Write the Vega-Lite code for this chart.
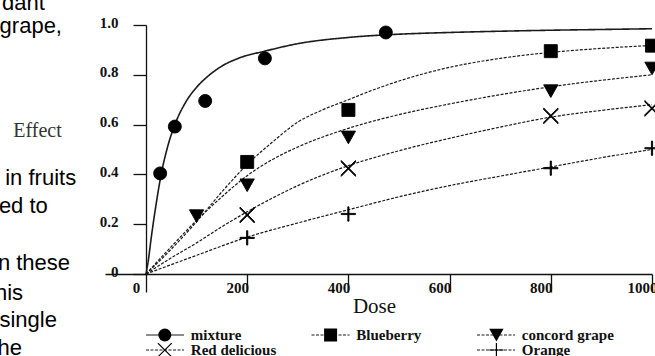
{
  "$schema": "https://vega.github.io/schema/vega-lite/v6.json",
  "width": 547,
  "height": 249,
  "autosize": {"type": "none"},
  "padding": {"left": 105, "top": 25, "right": 3, "bottom": 82},
  "config": {"view": {"stroke": null}, "font": "Liberation Serif"},
  "datasets": {
    "obs": [
      {"series": "mixture", "dose": 28, "effect": 0.404},
      {"series": "mixture", "dose": 57, "effect": 0.592},
      {"series": "mixture", "dose": 117, "effect": 0.695},
      {"series": "mixture", "dose": 235, "effect": 0.866},
      {"series": "mixture", "dose": 474, "effect": 0.97},
      {"series": "Blueberry", "dose": 200, "effect": 0.45},
      {"series": "Blueberry", "dose": 400, "effect": 0.659},
      {"series": "Blueberry", "dose": 800, "effect": 0.895},
      {"series": "Blueberry", "dose": 1000, "effect": 0.917},
      {"series": "concord grape", "dose": 100, "effect": 0.233},
      {"series": "concord grape", "dose": 200, "effect": 0.357},
      {"series": "concord grape", "dose": 400, "effect": 0.549},
      {"series": "concord grape", "dose": 800, "effect": 0.735},
      {"series": "concord grape", "dose": 1000, "effect": 0.826},
      {"series": "Red delicious", "dose": 200, "effect": 0.237},
      {"series": "Red delicious", "dose": 400, "effect": 0.424},
      {"series": "Red delicious", "dose": 800, "effect": 0.635},
      {"series": "Red delicious", "dose": 1000, "effect": 0.665},
      {"series": "Orange", "dose": 200, "effect": 0.145},
      {"series": "Orange", "dose": 400, "effect": 0.241},
      {"series": "Orange", "dose": 800, "effect": 0.425},
      {"series": "Orange", "dose": 1000, "effect": 0.505}
    ],
    "curves": [
      {"series": "mixture", "dose": 0, "effect": 0},
      {"series": "mixture", "dose": 5, "effect": 0.06},
      {"series": "mixture", "dose": 10, "effect": 0.14},
      {"series": "mixture", "dose": 20, "effect": 0.28},
      {"series": "mixture", "dose": 30, "effect": 0.4},
      {"series": "mixture", "dose": 40, "effect": 0.49},
      {"series": "mixture", "dose": 50, "effect": 0.56},
      {"series": "mixture", "dose": 60, "effect": 0.615},
      {"series": "mixture", "dose": 80, "effect": 0.695},
      {"series": "mixture", "dose": 100, "effect": 0.75},
      {"series": "mixture", "dose": 120, "effect": 0.79},
      {"series": "mixture", "dose": 150, "effect": 0.835},
      {"series": "mixture", "dose": 185, "effect": 0.868},
      {"series": "mixture", "dose": 235, "effect": 0.895},
      {"series": "mixture", "dose": 300, "effect": 0.925},
      {"series": "mixture", "dose": 400, "effect": 0.95},
      {"series": "mixture", "dose": 500, "effect": 0.963},
      {"series": "mixture", "dose": 600, "effect": 0.97},
      {"series": "mixture", "dose": 700, "effect": 0.975},
      {"series": "mixture", "dose": 800, "effect": 0.979},
      {"series": "mixture", "dose": 900, "effect": 0.982},
      {"series": "mixture", "dose": 1000, "effect": 0.985},
      {"series": "Blueberry", "dose": 0, "effect": 0},
      {"series": "Blueberry", "dose": 50, "effect": 0.1},
      {"series": "Blueberry", "dose": 100, "effect": 0.21},
      {"series": "Blueberry", "dose": 150, "effect": 0.33},
      {"series": "Blueberry", "dose": 200, "effect": 0.44},
      {"series": "Blueberry", "dose": 250, "effect": 0.53},
      {"series": "Blueberry", "dose": 300, "effect": 0.61},
      {"series": "Blueberry", "dose": 350, "effect": 0.66},
      {"series": "Blueberry", "dose": 400, "effect": 0.7},
      {"series": "Blueberry", "dose": 450, "effect": 0.74},
      {"series": "Blueberry", "dose": 500, "effect": 0.775},
      {"series": "Blueberry", "dose": 600, "effect": 0.83},
      {"series": "Blueberry", "dose": 700, "effect": 0.866},
      {"series": "Blueberry", "dose": 800, "effect": 0.89},
      {"series": "Blueberry", "dose": 900, "effect": 0.906},
      {"series": "Blueberry", "dose": 1000, "effect": 0.918},
      {"series": "concord grape", "dose": 0, "effect": 0},
      {"series": "concord grape", "dose": 50, "effect": 0.11},
      {"series": "concord grape", "dose": 100, "effect": 0.215},
      {"series": "concord grape", "dose": 150, "effect": 0.31},
      {"series": "concord grape", "dose": 200, "effect": 0.395},
      {"series": "concord grape", "dose": 250, "effect": 0.46},
      {"series": "concord grape", "dose": 300, "effect": 0.51},
      {"series": "concord grape", "dose": 400, "effect": 0.585},
      {"series": "concord grape", "dose": 500, "effect": 0.64},
      {"series": "concord grape", "dose": 600, "effect": 0.683},
      {"series": "concord grape", "dose": 700, "effect": 0.72},
      {"series": "concord grape", "dose": 800, "effect": 0.752},
      {"series": "concord grape", "dose": 900, "effect": 0.778},
      {"series": "concord grape", "dose": 1000, "effect": 0.8},
      {"series": "Red delicious", "dose": 0, "effect": 0},
      {"series": "Red delicious", "dose": 50, "effect": 0.065},
      {"series": "Red delicious", "dose": 100, "effect": 0.125},
      {"series": "Red delicious", "dose": 150, "effect": 0.19},
      {"series": "Red delicious", "dose": 200, "effect": 0.25},
      {"series": "Red delicious", "dose": 250, "effect": 0.305},
      {"series": "Red delicious", "dose": 300, "effect": 0.355},
      {"series": "Red delicious", "dose": 400, "effect": 0.435},
      {"series": "Red delicious", "dose": 500, "effect": 0.495},
      {"series": "Red delicious", "dose": 600, "effect": 0.545},
      {"series": "Red delicious", "dose": 700, "effect": 0.59},
      {"series": "Red delicious", "dose": 800, "effect": 0.63},
      {"series": "Red delicious", "dose": 900, "effect": 0.657},
      {"series": "Red delicious", "dose": 1000, "effect": 0.68},
      {"series": "Orange", "dose": 0, "effect": 0},
      {"series": "Orange", "dose": 100, "effect": 0.075},
      {"series": "Orange", "dose": 200, "effect": 0.148},
      {"series": "Orange", "dose": 300, "effect": 0.205},
      {"series": "Orange", "dose": 400, "effect": 0.258},
      {"series": "Orange", "dose": 500, "effect": 0.31},
      {"series": "Orange", "dose": 600, "effect": 0.355},
      {"series": "Orange", "dose": 700, "effect": 0.393},
      {"series": "Orange", "dose": 800, "effect": 0.43},
      {"series": "Orange", "dose": 900, "effect": 0.467},
      {"series": "Orange", "dose": 1000, "effect": 0.5}
    ],
    "frag": [
      {"t": "dant", "dose": -200, "effect": 1.06},
      {"t": "grape,", "dose": -166, "effect": 0.968},
      {"t": "in fruits", "dose": -138, "effect": 0.357},
      {"t": "ed to", "dose": -194, "effect": 0.245},
      {"t": "n these", "dose": -150, "effect": 0.016},
      {"t": "his", "dose": -243, "effect": -0.104},
      {"t": "single", "dose": -176, "effect": -0.213},
      {"t": "he", "dose": -245, "effect": -0.325}
    ]
  },
  "encoding": {
    "x": {
      "field": "dose", "type": "quantitative",
      "scale": {"domain": [-81, 1000], "nice": false, "zero": false},
      "axis": {
        "values": [0, 200, 400, 600, 800, 1000], "format": "d", "title": "Dose", "grid": false,
        "domainColor": "#111", "domainWidth": 1.3, "tickColor": "#111", "tickWidth": 1.3, "tickSize": 18,
        "labelFont": "Liberation Serif", "labelFontSize": 15, "labelFontWeight": "bold", "labelColor": "#111",
        "labelBaseline": "alphabetic", "labelPadding": 0, "labelAlign": "center", "labelOffset": -10,
        "labelFlush": false, "labelOverlap": false,
        "titleFont": "Liberation Serif", "titleFontSize": 21, "titleFontWeight": "normal", "titleColor": "#111",
        "titleX": 269, "titleY": 32, "titleAlign": "center", "titleBaseline": "middle"
      }
    },
    "y": {
      "field": "effect", "type": "quantitative",
      "scale": {"domain": [0, 1], "nice": false},
      "axis": {
        "values": [0, 0.2, 0.4, 0.6, 0.8, 1], "offset": -41,
        "labelExpr": "datum.value === 0 ? '0' : format(datum.value, '.1f')",
        "title": "Effect", "grid": false,
        "domainColor": "#111", "domainWidth": 1.3, "tickColor": "#111", "tickWidth": 1.3, "tickSize": 13,
        "labelFont": "Liberation Serif", "labelFontSize": 15, "labelFontWeight": "bold", "labelColor": "#111",
        "labelPadding": 15, "labelBaseline": "alphabetic", "labelOffset": 2, "labelAlign": "right",
        "labelOverlap": false, "labelFlush": false,
        "titleAngle": 0, "titleX": -109, "titleY": 105, "titleAlign": "center", "titleBaseline": "middle",
        "titleFont": "Liberation Serif", "titleFontSize": 20, "titleFontWeight": "normal", "titleColor": "#333"
      }
    }
  },
  "layer": [
    {
      "data": {"name": "frag"},
      "mark": {"type": "text", "align": "right", "baseline": "alphabetic", "font": "Liberation Sans", "fontSize": 22, "color": "#000"},
      "encoding": {"text": {"field": "t", "type": "nominal"}}
    },
    {
      "data": {"name": "curves"},
      "mark": {"type": "line", "interpolate": "monotone", "color": "#1a1a1a"},
      "encoding": {
        "detail": {"field": "series", "type": "nominal"},
        "strokeDash": {
          "field": "series", "type": "nominal",
          "scale": {
            "domain": ["mixture", "Blueberry", "concord grape", "Red delicious", "  ", "Orange"],
            "range": [[1, 0], [3, 1.5], [3, 1.5], [3, 1.5], [0, 10], [3, 1.5]]
          },
          "legend": {
            "orient": "none", "legendX": 40, "legendY": 303, "direction": "horizontal", "columns": 3,
            "title": null, "padding": 0, "rowPadding": -2, "columnPadding": 27.5, "gridAlign": "all",
            "clipHeight": 14, "symbolType": "stroke", "symbolSize": 1444, "symbolStrokeWidth": 1.2, "labelOffset": 5.8,
            "labelFont": "Liberation Serif", "labelFontSize": 15, "labelFontWeight": "bold", "labelColor": "#111", "labelLimit": 200
          }
        },
        "strokeWidth": {"condition": {"test": "datum.series === 'mixture'", "value": 1.6}, "value": 1.2}
      }
    },
    {
      "data": {"name": "obs"},
      "mark": {"type": "point", "filled": true, "color": "black", "stroke": "black", "strokeWidth": 0.9, "size": 169, "opacity": 1},
      "encoding": {
        "shape": {
          "field": "series", "type": "nominal",
          "scale": {
            "domain": ["mixture", "Blueberry", "concord grape", "Red delicious", " ", "Orange"],
            "range": [
              "circle",
              "square",
              "M-1.1,-0.95L1.1,-0.95L0,1Z",
              "M-1.1,-1.22L1.1,0.98L1.1,1.22L-1.1,-0.98ZM-1.1,0.98L1.1,-1.22L1.1,-0.98L-1.1,1.22Z",
              "M0,0",
              "M-1.1,-0.09H1.1V0.09H-1.1ZM-0.09,-1.1H0.09V1.1H-0.09Z"
            ]
          },
          "legend": {
            "orient": "none", "legendX": 52.3, "legendY": 303, "direction": "horizontal", "columns": 3,
            "title": null, "padding": 0, "rowPadding": -2, "columnPadding": 39.8, "gridAlign": "all",
            "clipHeight": 14, "symbolSize": 169, "symbolStrokeWidth": 1.3, "symbolStrokeColor": "black", "symbolFillColor": "black",
            "labelOffset": 18.4, "labelOpacity": 0,
            "labelFont": "Liberation Serif", "labelFontSize": 15, "labelFontWeight": "bold", "labelColor": "#111", "labelLimit": 200
          }
        }
      }
    }
  ]
}
